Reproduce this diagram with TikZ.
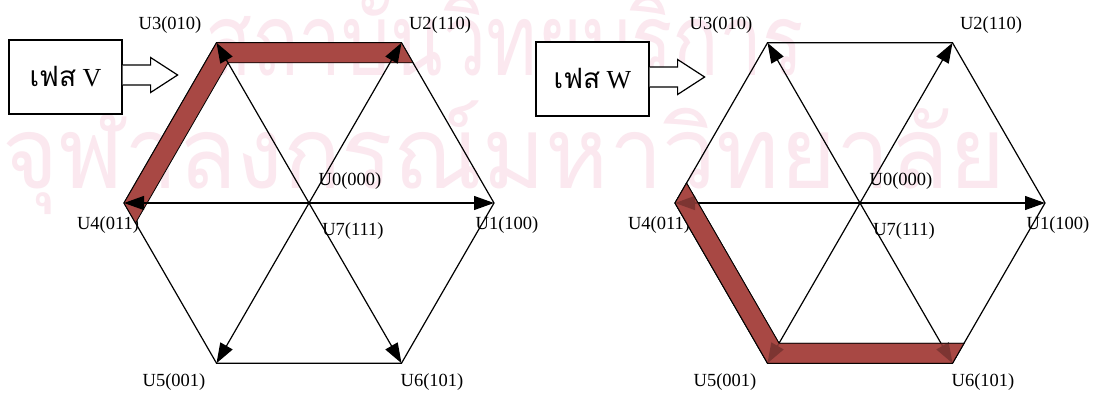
\documentclass[tikz,border=0pt]{standalone}
\usepackage{fontspec}
\setmainfont{Liberation Serif}
\newfontfamily\thaifont[Script=Thai]{Loma}
\usetikzlibrary{arrows.meta,calc}
\definecolor{bandred}{RGB}{168,72,68}
\definecolor{wmpink}{RGB}{251,232,239}
\newcommand\hexfig[2]{%
  \coordinate (#1C) at (#2,203);
  \coordinate (#1U1) at ($(#1C)+(185,0)$);
  \coordinate (#1U2) at ($(#1C)+(92.5,-160.2)$);
  \coordinate (#1U3) at ($(#1C)+(-92.5,-160.2)$);
  \coordinate (#1U4) at ($(#1C)+(-185,0)$);
  \coordinate (#1U5) at ($(#1C)+(-92.5,160.2)$);
  \coordinate (#1U6) at ($(#1C)+(92.5,160.2)$);
  \draw[edge] (#1U1) -- (#1U2) -- (#1U3) -- (#1U4) -- (#1U5) -- (#1U6) -- cycle;
  \node[lbl] (#1L3) at ($(#1C)+(-139,-178)$) {U3(010)};
  \node[lbl] (#1L2) at ($(#1C)+(131,-178)$) {U2(110)};
  \node[lbl] (#1L0) at ($(#1C)+(41,-22)$) {U0(000)};
  \node[lbl] (#1L4) at ($(#1C)+(-201,22)$) {U4(011)};
  \node[lbl] (#1L7) at ($(#1C)+(44,28)$) {U7(111)};
  \node[lbl] (#1L1) at ($(#1C)+(198,22)$) {U1(100)};
  \node[lbl] (#1L5) at ($(#1C)+(-135,179)$) {U5(001)};
  \node[lbl] (#1L6) at ($(#1C)+(123,179)$) {U6(101)};
}
\newcommand\hexarrows[1]{%
  \foreach \k in {1,...,6} \draw[vec] (#1C) -- (#1U\k);
}
\newcommand\blockarr[1]{%
  \draw[blockarrow] ($(#1.east)+(0,-12)$) -- ++(28,0) -- ++(0,-7.5) -- ++(27,17.5) -- ++(-27,17.5) -- ++(0,-7.5) -- ($(#1.east)+(0,8)$);
}
\begin{document}
\begin{tikzpicture}[x=1pt,y=-1pt,
  edge/.style={line width=1.2pt,line join=miter},
  vec/.style={line width=1.2pt,-{Triangle[length=20pt,width=14pt]}},
  lbl/.style={font=\fontsize{18.5}{20}\selectfont,inner sep=0pt},
  band/.style={fill=bandred,draw=black,line width=0.8pt,line join=miter},
  phase/.style={draw=black,line width=1.2pt,fill=white,minimum width=113pt,minimum height=74pt,inner sep=0pt,font=\fontsize{26}{28}\selectfont},
  blockarrow/.style={draw=black,line width=1.2pt,fill=white,line join=miter},
  wm/.style={text=wmpink,font=\thaifont\fontsize{100}{100}\selectfont,inner sep=0pt}
]
\fill[white] (0,0) rectangle (1094,392);
\useasboundingbox (0,0) rectangle (1094,392);
% watermark
\node[wm,anchor=base west,xscale=0.77] (wmA) at (205,75) {สถาบันวิทยบริการ};
\node[wm,anchor=base west,xscale=0.96] (wmB) at (2,188) {จุฬาลงกรณ์มหาวิทยาลัย};
% left figure (phase V)
\hexfig{L}{309}
\fill[band] (LU4) -- (LU3) -- (LU2) -- ($(LU2)!23.1pt!(LU1)$) -- ($(LC)!0.8752!(LU3)$) -- ($(LU4)!23.1pt!(LU5)$) -- cycle;
\hexarrows{L}
% right figure (phase W)
\hexfig{R}{860}
\fill[band] (RU4) -- (RU5) -- (RU6) -- ($(RU6)!23.1pt!(RU1)$) -- ($(RC)!0.8752!(RU5)$) -- ($(RU4)!23.1pt!(RU3)$) -- cycle;
\hexarrows{R}
\fill[band,fill opacity=0.75] (RU4) -- (RU5) -- (RU6) -- ($(RU6)!23.1pt!(RU1)$) -- ($(RC)!0.8752!(RU5)$) -- ($(RU4)!23.1pt!(RU3)$) -- cycle;
% phase boxes
\node[phase] (boxV) at (65.5,77) {{\thaifont\fontsize{28}{30}\selectfont เฟส} V};
\blockarr{boxV}
\node[phase] (boxW) at (592.5,79) {{\thaifont\fontsize{28}{30}\selectfont เฟส} W};
\blockarr{boxW}
\end{tikzpicture}
\end{document}
